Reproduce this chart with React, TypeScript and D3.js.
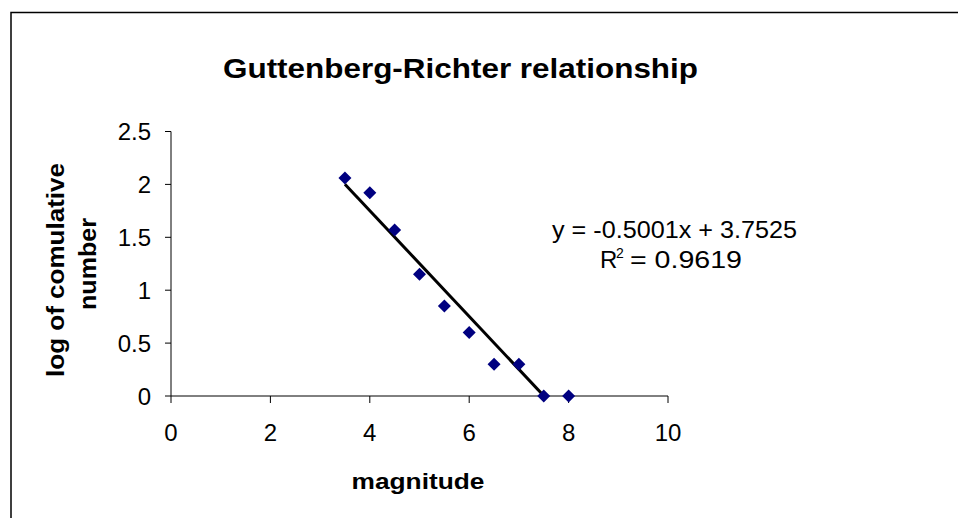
import React from "react";
import * as d3 from "d3";

const magnitudes = [3.5, 4, 4.5, 5, 5.5, 6, 6.5, 7, 7.5, 8];
const logCumulative = [2.06, 1.92, 1.57, 1.15, 0.85, 0.6, 0.3, 0.3, 0, 0];
const xTicks = [0, 2, 4, 6, 8, 10];
const yTicks = [0, 0.5, 1, 1.5, 2, 2.5];
const slope = -0.5001;
const intercept = 3.7525;
const equationText = "y = -0.5001x + 3.7525";
const r2Text = "= 0.9619";
const titleText = "Guttenberg-Richter relationship";
const xTitle = "magnitude";
const yTitleLines = ["log of comulative", "number"];

const W = 958;
const H = 518;
const FONT = "'Liberation Sans', Arial, sans-serif";

export default function App() {
  const x = d3.scaleLinear().domain([0, 10]).range([171, 668]);
  const y = d3.scaleLinear().domain([0, 2.5]).range([396, 131.5]);
  const xMin = d3.min(magnitudes) as number;
  const xMax = d3.max(magnitudes) as number;
  const trend = d3
    .line<number>()
    .x((d) => x(d))
    .y((d) => y(slope * d + intercept))([xMin, xMax]) as string;

  const dsize = 6.5;
  const diamondPath = (cx: number, cy: number) =>
    `M${cx},${cy - dsize}L${cx + dsize},${cy}L${cx},${cy + dsize}L${cx - dsize},${cy}Z`;

  return (
    <div style={{ position: "absolute", left: 0, top: 0 }}>
      <svg width={W} height={H} style={{ display: "block", fontFamily: FONT }}>
        <rect x={0} y={0} width={W} height={H} fill="#fff" />
        <rect x={11} y={12.5} width={W + 20} height={H + 20} fill="none" stroke="#000" strokeWidth={1.5} />
        <defs>
          <clipPath id="plotClip">
            <rect x={x(0)} y={y(2.5) - 2} width={x(10) - x(0)} height={y(0) - y(2.5) + 2} />
          </clipPath>
        </defs>

        {/* title */}
        <text x={460.5} y={78} textAnchor="middle" fontSize={28} fontWeight="bold" textLength={475} lengthAdjust="spacingAndGlyphs">
          {titleText}
        </text>

        {/* axes */}
        <line x1={x(0)} x2={x(10)} y1={y(0)} y2={y(0)} stroke="#000" strokeWidth={1} />
        <line x1={x(0)} x2={x(0)} y1={y(2.5)} y2={y(0)} stroke="#000" strokeWidth={1} />
        {xTicks.map((t) => (
          <g key={"xt" + t}>
            <line x1={x(t)} x2={x(t)} y1={y(0)} y2={y(0) + 7} stroke="#000" strokeWidth={1} />
            <text x={x(t)} y={441} textAnchor="middle" fontSize={24}>
              {t}
            </text>
          </g>
        ))}
        {yTicks.map((t) => (
          <g key={"yt" + t}>
            <line x1={x(0) - 6} x2={x(0)} y1={y(t)} y2={y(t)} stroke="#000" strokeWidth={1} />
            <text x={151} y={y(t) + 8.5} textAnchor="end" fontSize={24}>
              {t}
            </text>
          </g>
        ))}

        {/* trendline */}
        <path d={trend} stroke="#000" strokeWidth={3} fill="none" clipPath="url(#plotClip)" />

        {/* points */}
        {magnitudes.map((m, i) => (
          <path key={"p" + i} d={diamondPath(x(m), y(logCumulative[i]))} fill="#000080" />
        ))}

        {/* equation */}
        <text x={674.5} y={238} textAnchor="middle" fontSize={24} textLength={245} lengthAdjust="spacingAndGlyphs">
          {equationText}
        </text>
        <text x={600} y={268} fontSize={24}>R</text>
        <text x={616} y={258} fontSize={14}>2</text>
        <text x={630} y={268} fontSize={24} textLength={112} lengthAdjust="spacingAndGlyphs">
          {r2Text}
        </text>

        {/* axis titles */}
        <text x={418} y={489} textAnchor="middle" fontSize={22} fontWeight="bold" textLength={133} lengthAdjust="spacingAndGlyphs">
          {xTitle}
        </text>
        <text transform="translate(64,270) rotate(-90)" textAnchor="middle" fontSize={23} fontWeight="bold" textLength={214} lengthAdjust="spacingAndGlyphs">
          {yTitleLines[0]}
        </text>
        <text transform="translate(96,264) rotate(-90)" textAnchor="middle" fontSize={23} fontWeight="bold" textLength={92} lengthAdjust="spacingAndGlyphs">
          {yTitleLines[1]}
        </text>
      </svg>
    </div>
  );
}
